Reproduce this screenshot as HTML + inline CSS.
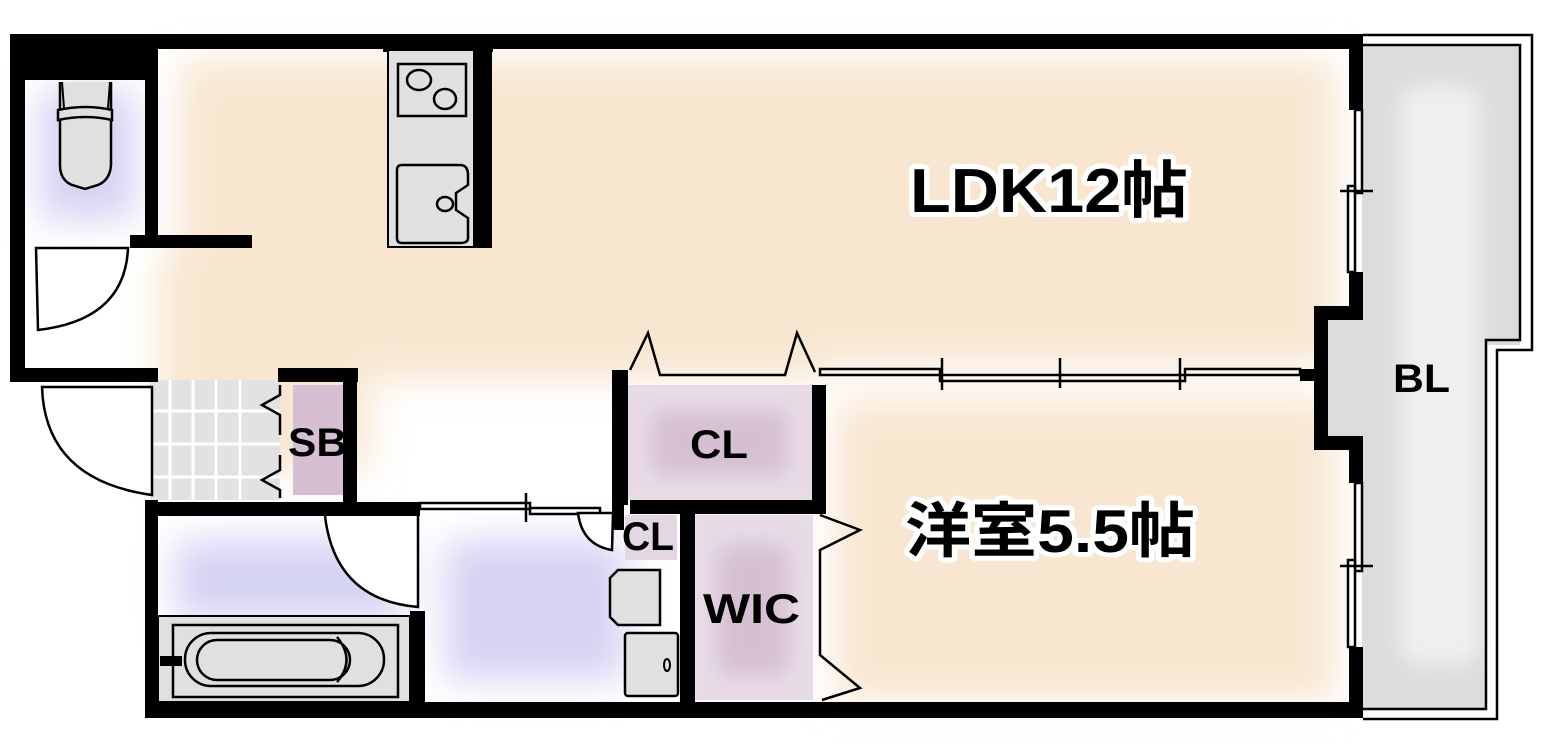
<!DOCTYPE html>
<html><head><meta charset="utf-8">
<style>
html,body{margin:0;padding:0;background:#fff;}
svg{display:block;}
text{font-family:"Liberation Sans","Noto Sans CJK JP",sans-serif;font-weight:bold;}
</style></head>
<body>
<svg width="1541" height="750" viewBox="0 0 1541 750" xmlns="http://www.w3.org/2000/svg">
<defs>
<filter id="b" x="-20%" y="-20%" width="140%" height="140%"><feGaussianBlur stdDeviation="18"/></filter>
<filter id="b2" x="-20%" y="-20%" width="140%" height="140%"><feGaussianBlur stdDeviation="10"/></filter>
</defs>
<rect x="0" y="0" width="1541" height="750" fill="#fff"/>
<g filter="url(#b)">
<path d="M180 60 H1335 V365 H820 V380 H612 V380 H370 V470 H160 V250 H180 Z" fill="#f8e6d0"/>
<rect x="835" y="400" width="500" height="300" fill="#f8e6d0"/>
<rect x="40" y="90" width="95" height="130" fill="#d6d3f3"/>
<rect x="175" y="540" width="230" height="80" fill="#d6d3f3"/>
<rect x="445" y="540" width="180" height="140" fill="#d6d3f3"/>
</g>
<!-- balcony fill -->
<rect x="1362" y="45" width="158" height="300" fill="#dcdcdc"/>
<rect x="1362" y="340" width="124" height="370" fill="#dcdcdc"/>
<rect x="1326" y="318" width="40" height="120" fill="#dcdcdc"/>
<rect x="1400" y="85" width="80" height="580" rx="20" fill="#efefef" filter="url(#b2)"/>
<!-- closets -->
<rect x="628" y="385" width="184" height="115" fill="#e7dbe6"/>
<rect x="652" y="410" width="135" height="65" rx="12" fill="#d6bfd3" filter="url(#b2)"/>
<rect x="695" y="515" width="118" height="185" fill="#e7dbe6"/>
<rect x="718" y="545" width="70" height="130" rx="12" fill="#d6bfd3" filter="url(#b2)"/>
<rect x="293" y="385" width="50" height="110" fill="#d6bfd3"/>
<rect x="625" y="515" width="52" height="45" fill="#e4d7e4"/>
<!-- tiles -->
<rect x="150" y="380" width="130" height="120" fill="#e2e2e2"/>
<g stroke="#fff" stroke-width="3">
<line x1="170" y1="380" x2="170" y2="500"/><line x1="193" y1="380" x2="193" y2="500"/><line x1="216" y1="380" x2="216" y2="500"/><line x1="240" y1="380" x2="240" y2="500"/>
<line x1="150" y1="411" x2="280" y2="411"/><line x1="150" y1="444" x2="280" y2="444"/><line x1="150" y1="477" x2="280" y2="477"/>
</g>
<!-- walls -->
<g fill="#000">
<rect x="10" y="34" width="1353" height="15"/>
<rect x="10" y="34" width="15" height="348"/>
<rect x="25" y="48" width="133" height="32"/>
<rect x="145" y="48" width="13" height="190"/>
<rect x="130" y="235" width="122" height="13"/>
<rect x="10" y="368" width="148" height="14"/>
<rect x="278" y="368" width="80" height="14"/>
<rect x="343" y="368" width="14" height="145"/>
<rect x="145" y="500" width="13" height="218"/>
<rect x="145" y="502" width="275" height="14"/>
<rect x="145" y="702" width="1218" height="16"/>
<rect x="410" y="611" width="15" height="95"/>
<rect x="612" y="370" width="16" height="135"/>
<rect x="812" y="385" width="14" height="127"/>
<rect x="630" y="500" width="196" height="14"/>
<rect x="680" y="512" width="15" height="195"/>
<rect x="612" y="500" width="12" height="30"/>
<rect x="1349" y="34" width="14" height="76"/>
<rect x="1349" y="272" width="14" height="48"/>
<rect x="1314" y="306" width="49" height="14"/>
<rect x="1314" y="306" width="14" height="144"/>
<rect x="1314" y="436" width="49" height="14"/>
<rect x="1349" y="436" width="14" height="47"/>
<rect x="1300" y="369" width="15" height="12"/>
<rect x="1349" y="647" width="14" height="71"/>
<rect x="383" y="48" width="110" height="4"/>
<rect x="472" y="48" width="20" height="200"/>
</g>
<!-- balcony outline -->
<path d="M1363 35 H1532 V350 H1497 V719 H1363" fill="none" stroke="#000" stroke-width="2.5"/>
<path d="M1363 45 H1520 V340 H1486 V709 H1363" fill="none" stroke="#000" stroke-width="2.5"/>
<!-- balcony windows -->
<g fill="#fff" stroke="#000" stroke-width="2.5">
<rect x="1355" y="110" width="7" height="83"/><rect x="1348" y="186" width="7" height="86"/>
<rect x="1355" y="483" width="7" height="88"/><rect x="1348" y="560" width="7" height="87"/>
</g>
<g stroke="#000" stroke-width="2.5">
<line x1="1340" y1="191" x2="1373" y2="191"/><line x1="1340" y1="566" x2="1373" y2="566"/>
</g>
<!-- kitchen -->
<rect x="388" y="50" width="86" height="197" fill="#e0e0e0" stroke="#000" stroke-width="2"/>
<rect x="398" y="64" width="68" height="52" fill="#e0e0e0" stroke="#000" stroke-width="2.5"/>
<ellipse cx="419" cy="80" rx="12" ry="10" fill="none" stroke="#000" stroke-width="2.5"/>
<ellipse cx="445" cy="99" rx="11" ry="10" fill="none" stroke="#000" stroke-width="2.5"/>
<path d="M402 165 H460 Q468 165 468 175 V185 L456 193 V210 L468 218 V238 Q468 243 460 243 H402 Q397 243 397 238 V170 Q397 165 402 165 Z" fill="#e0e0e0" stroke="#000" stroke-width="2.5"/>
<ellipse cx="445" cy="204" rx="8" ry="7" fill="none" stroke="#000" stroke-width="2.5"/>
<!-- toilet -->
<path d="M60 82 V165 Q60 180 72 185 L85 189 L98 185 Q110 180 111 165 V82" fill="#e0e0e0" stroke="#000" stroke-width="2.5"/>
<path d="M58 110 Q86 104 112 110 V120 Q86 114 58 120 Z" fill="#e0e0e0" stroke="#000" stroke-width="2.5"/>
<line x1="62" y1="82" x2="64" y2="108" stroke="#000" stroke-width="2"/>
<line x1="110" y1="82" x2="108" y2="108" stroke="#000" stroke-width="2"/>
<!-- toilet door -->
<path d="M36 248 H128 Q125 320 38 330 Z" fill="#fff" stroke="#000" stroke-width="2.5"/>
<!-- entrance door -->
<path d="M152 387 H42 Q45 480 152 495 Z" fill="#fff" stroke="#000" stroke-width="2.5"/>
<!-- SB folding doors -->
<path d="M280 385 V395 L262 405 L280 415 V435" fill="none" stroke="#000" stroke-width="2.5"/>
<path d="M280 455 V470 L262 480 L280 490 V498" fill="none" stroke="#000" stroke-width="2.5"/>
<!-- bath door -->
<path d="M325 516 Q335 600 418 607 V516" fill="#fff" stroke="#000" stroke-width="2.5"/>
<!-- bath sliding door -->
<g fill="none" stroke="#000" stroke-width="2.5">
<rect x="420" y="503" width="110" height="6"/><rect x="530" y="508" width="70" height="6"/>
<line x1="526" y1="493" x2="526" y2="522"/>
</g>
<!-- CL small door -->
<path d="M613 513 H578 Q582 545 612 550 Z" fill="#fff" stroke="#000" stroke-width="2.5"/>
<!-- bathtub -->
<rect x="158" y="616" width="252" height="86" fill="#e0e0e0" stroke="#000" stroke-width="2"/>
<rect x="173" y="625" width="225" height="72" fill="none" stroke="#000" stroke-width="2.5"/>
<rect x="185" y="633" width="199" height="53" rx="26" fill="none" stroke="#000" stroke-width="2.5"/>
<rect x="197" y="640" width="153" height="40" rx="20" fill="none" stroke="#000" stroke-width="2.5"/>
<path d="M337 637 Q356 660 337 682" fill="none" stroke="#000" stroke-width="2.5"/>
<rect x="160" y="656" width="22" height="10" fill="#000"/>
<!-- washbasin / washer -->
<path d="M618 570 H660 V625 H618 L610 617 V578 Z" fill="#e0e0e0" stroke="#000" stroke-width="2.5"/>
<rect x="625" y="633" width="53" height="63" rx="3" fill="#e0e0e0" stroke="#000" stroke-width="2.5"/>
<ellipse cx="667" cy="665" rx="3" ry="6" fill="none" stroke="#000" stroke-width="2"/>
<!-- CL doors top -->
<path d="M630 370 L648 333 L660 375 H785 L797 333 L815 372" fill="none" stroke="#000" stroke-width="2.5"/>
<!-- LDK/room sliding doors -->
<g fill="none" stroke="#000" stroke-width="2.5">
<rect x="820" y="369" width="120" height="6"/>
<rect x="940" y="375" width="245" height="6"/>
<rect x="1185" y="369" width="115" height="6"/>
<line x1="942" y1="358" x2="942" y2="390"/><line x1="1060" y1="358" x2="1060" y2="388"/><line x1="1180" y1="358" x2="1180" y2="390"/>
</g>
<!-- WIC folding doors -->
<path d="M820 515 L860 530 L820 550 V655 L860 688 L822 700" fill="none" stroke="#000" stroke-width="2.5"/>
<!-- labels -->
<g stroke="#fff" stroke-width="10" stroke-linejoin="round" paint-order="stroke" fill="#000">
<text x="910" y="212" font-size="62" textLength="278" lengthAdjust="spacingAndGlyphs">LDK12帖</text>
<text x="905" y="552" font-size="60" textLength="290" lengthAdjust="spacingAndGlyphs">洋室5.5帖</text>
</g>
<text x="288" y="456" font-size="40" fill="#000" textLength="59" lengthAdjust="spacingAndGlyphs">SB</text>
<text x="690" y="458" font-size="40" fill="#000" textLength="58" lengthAdjust="spacingAndGlyphs">CL</text>
<text x="622" y="550" font-size="40" fill="#000" textLength="52" lengthAdjust="spacingAndGlyphs">CL</text>
<text x="703" y="623" font-size="42" fill="#000" textLength="97" lengthAdjust="spacingAndGlyphs">WIC</text>
<text x="1393" y="392" font-size="40" fill="#000" textLength="57" lengthAdjust="spacingAndGlyphs">BL</text>
</svg>
</body></html>
